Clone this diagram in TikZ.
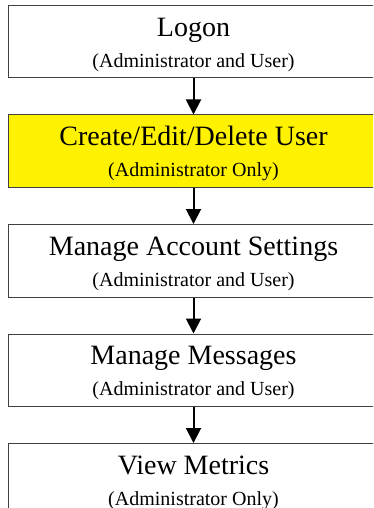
\documentclass[tikz,border=0pt]{standalone}
\usepackage{fontspec}
\setmainfont{Liberation Serif}
\usetikzlibrary{positioning,arrows.meta}

\newcommand{\steptext}[2]{{\fontsize{28}{31}\selectfont\rule{0pt}{24pt}#1}\\{#2}}

\begin{document}
\begin{tikzpicture}[node distance=36pt,
   stepbox/.style={draw=black!75,line width=1pt,fill=white,minimum width=371pt,minimum height=72.5pt,
                   align=center,inner sep=0pt,font=\fontsize{20}{31}\selectfont},
   flow/.style={-{Triangle[width=15pt,length=15pt]},line width=2pt}]
   \clip (0,0) rectangle (373pt,-508pt);
   \node[stepbox,anchor=north] (logon) at (193.5pt,-5pt) {\steptext{Logon}{(Administrator and User)}};
   \node[stepbox,fill=yellow] (usermgmt) [below=of logon] {\steptext{Create/Edit/Delete User}{(Administrator Only)}};
   \node[stepbox] (acctset) [below=of usermgmt] {\steptext{Manage Account Settings}{(Administrator and User)}};
   \node[stepbox] (messages) [below=of acctset] {\steptext{Manage Messages}{(Administrator and User)}};
   \node[stepbox] (metrics) [below=of messages] {\steptext{View Metrics}{(Administrator Only)}};
    \path[flow]
    (logon) edge (usermgmt)
    (usermgmt) edge (acctset)
    (acctset) edge (messages)
    (messages) edge (metrics);
\end{tikzpicture}
\end{document}
